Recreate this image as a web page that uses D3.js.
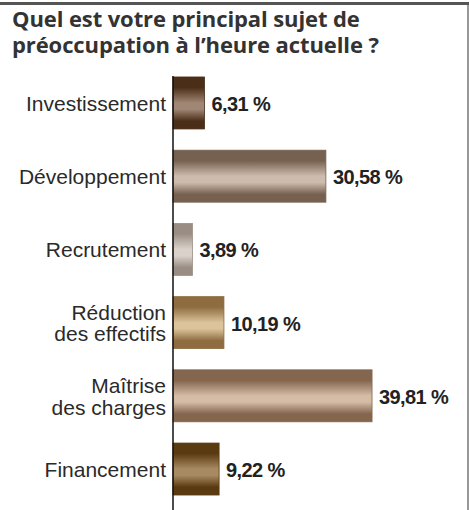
<!DOCTYPE html>
<html><head><meta charset="utf-8">
<script src="https://cdn.jsdelivr.net/npm/d3@7"></script>
<style>body{margin:0;background:#fff}</style>
</head><body>
<script>
const categories = [["Investissement"],["Développement"],["Recrutement"],["Réduction","des effectifs"],["Maîtrise","des charges"],["Financement"]];
const values = [6.31, 30.58, 3.89, 10.19, 39.81, 9.22];
const valueLabels = ["6,31 %","30,58 %","3,89 %","10,19 %","39,81 %","9,22 %"];
const darkColors = ["#4a2e18","#76604f","#9a8e84","#8e6c40","#84654e","#5a3a10"];
const lightColors = ["#a08674","#cdbcae","#dad2ca","#dcc39a","#d4bca6","#a88a62"];
const titleLines = ["Quel est votre principal sujet de","préoccupation à l’heure actuelle ?"];

const W=469,H=510;
const svg=d3.select("body").append("svg").attr("width",W).attr("height",H);
svg.append("rect").attr("x",0).attr("y",2).attr("width",W).attr("height",3).attr("fill","#555");
svg.append("rect").attr("x",467).attr("y",5).attr("width",2).attr("height",H).attr("fill","#999");

svg.selectAll("text.title").data(titleLines).join("text").attr("class","title")
  .attr("x",12).attr("y",(d,i)=>27+i*26)
  .attr("font-family","Open Sans").attr("font-weight","bold").attr("font-size",22)
  .attr("fill","#333").attr("letter-spacing",-0.1).text(d=>d);

const x=d3.scaleLinear().domain([0,40]).range([173,373]);
const y=d3.scaleBand().domain(d3.range(categories.length)).range([66,506]).paddingInner(0.29).paddingOuter(0.15);

const defs=svg.append("defs");
values.forEach((v,i)=>{
  const g=defs.append("linearGradient").attr("id","g"+i).attr("x1",0).attr("y1",0).attr("x2",0).attr("y2",1);
  g.append("stop").attr("offset","0%").attr("stop-color",darkColors[i]);
  g.append("stop").attr("offset","20%").attr("stop-color",darkColors[i]);
  g.append("stop").attr("offset","50%").attr("stop-color",lightColors[i]);
  g.append("stop").attr("offset","62%").attr("stop-color",lightColors[i]);
  g.append("stop").attr("offset","85%").attr("stop-color",darkColors[i]);
  g.append("stop").attr("offset","100%").attr("stop-color",darkColors[i]);
});

svg.selectAll("rect.bar").data(values).join("rect").attr("class","bar")
  .attr("x",x(0)).attr("y",(d,i)=>y(i)).attr("width",d=>x(d)-x(0)).attr("height",y.bandwidth())
  .attr("fill",(d,i)=>`url(#g${i})`).attr("stroke",(d,i)=>darkColors[i]).attr("stroke-width",0.8);

svg.append("line").attr("x1",x(0)).attr("x2",x(0)).attr("y1",76).attr("y2",H).attr("stroke","#111").attr("stroke-width",1.5);

svg.selectAll("text.val").data(values).join("text").attr("class","val")
  .attr("x",d=>x(d)+7).attr("y",(d,i)=>y(i)+y.bandwidth()/2+8)
  .attr("font-family","Liberation Sans").attr("font-weight","bold").attr("font-size",20).attr("letter-spacing",-0.6).attr("fill","#222")
  .text((d,i)=>valueLabels[i]);

categories.forEach((c,i)=>{
  const cy=y(i)+y.bandwidth()/2;
  const t=svg.append("text").attr("x",166).attr("text-anchor","end")
    .attr("font-family","Liberation Sans").attr("font-size",21).attr("fill","#2a2a2a");
  c.forEach((line,j)=>{
    t.append("tspan").attr("x",166).attr("y",cy+8+(j-(c.length-1)/2)*21.5).text(line);
  });
});
</script>
</body></html>
